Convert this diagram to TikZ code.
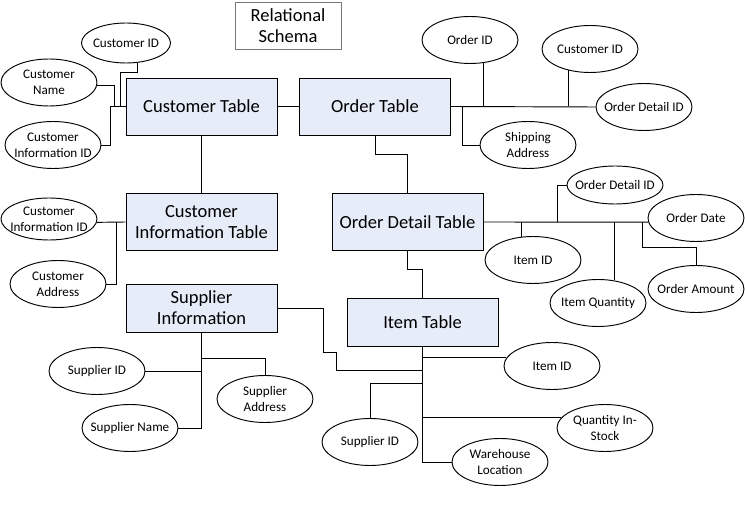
\documentclass[tikz,border=0pt]{standalone}
\usepackage{fontspec}
\setmainfont{Carlito}
\usepackage{xcolor}
\usepackage{tikz}
\usetikzlibrary{shapes.geometric}
\usetikzlibrary{arrows,backgrounds}

\definecolor{tablefill}{RGB}{230,236,248}
\definecolor{titleline}{RGB}{120,120,120}

\begin{document}
\begin{tikzpicture}[x=0.03cm, y=-0.03cm, line width=0.8pt,
    tablebox/.style={draw, fill=tablefill, minimum width=4.53cm, minimum height=1.71cm,
      inner sep=0pt, align=center, font=\fontsize{15.8}{17.9}\selectfont},
    attrib/.style={draw, ellipse, minimum width=2.88cm, minimum height=1.41cm,
      inner xsep=-0.3cm, inner ysep=0pt, align=center, font=\fontsize{11.2}{13.6}\selectfont},
    titlebox/.style={draw=titleline, line width=0.6pt, minimum width=3.18cm, minimum height=1.41cm,
      inner sep=0pt, align=center, font=\fontsize{15.8}{17.9}\selectfont}
  ]
  \useasboundingbox (0,0) rectangle (745,511);

  \node[titlebox] (title) at (288,25.5) {Relational\\Schema};

  % tables
  \node[tablebox] (cust)     at (201.5,106.5) {Customer Table};
  \node[tablebox] (order)    at (375,106.5)   {Order Table};
  \node[tablebox] (custinfo) at (201.5,222)   {Customer\\Information Table};
  \node[tablebox] (odetail)  at (407.5,222)   {Order Detail Table};
  \node[tablebox, minimum height=1.44cm] (supp) at (201.5,308) {Supplier\\Information};
  \node[tablebox, minimum height=1.44cm] (item) at (422.5,322) {Item Table};

  % attributes
  \node[attrib, minimum width=2.67cm, minimum height=1.2cm] (c-id) at (126,43) {Customer ID};
  \node[attrib] (c-name)   at (49,82.5)  {Customer\\Name};
  \node[attrib] (c-infoid) at (53,145)   {Customer\\Information ID};
  \node[attrib] (o-id)       at (470,40)  {Order ID};
  \node[attrib] (o-custid)   at (590,49)  {Customer ID};
  \node[attrib] (o-detailid) at (644,107) {Order Detail ID};
  \node[attrib] (o-ship)     at (528,145) {Shipping\\Address};
  \node[attrib, minimum height=1.26cm] (ci-infoid) at (49,219) {Customer\\Information ID};
  \node[attrib] (ci-addr)   at (58,284)  {Customer\\Address};
  \node[attrib, minimum height=1.14cm] (od-detailid) at (615,185) {Order Detail ID};
  \node[attrib] (od-date)   at (696,218) {Order Date};
  \node[attrib] (od-itemid) at (533,260) {Item ID};
  \node[attrib] (od-qty)    at (598,303) {Item Quantity};
  \node[attrib] (od-amount) at (696,289) {Order Amount};
  \node[attrib] (s-id)   at (97,371)  {Supplier ID};
  \node[attrib] (s-name) at (130,428) {Supplier Name};
  \node[attrib] (s-addr) at (265,399) {Supplier\\Address};
  \node[attrib] (i-id)      at (552,366) {Item ID};
  \node[attrib] (i-suppid)  at (370,442) {Supplier ID};
  \node[attrib] (i-stock)   at (605,428) {Quantity In-\\Stock};
  \node[attrib] (i-ware)    at (500,462) {Warehouse\\Location};

  % customer table
  \draw (cust) -- (order);
  \draw (cust) -- (custinfo);
  \draw (c-infoid.east) -| (110,106.5) -- (cust.west);
  \draw (c-name.-4) -| (114,106.5);
  \draw (c-id.-60) |- (120,72) -- (120,106.5);

  % order table
  \draw (order.east) -- (o-detailid.west);
  \draw (o-id.-59) -- (o-id.-59 |- order.east);
  \draw (o-custid.-135) -- (o-custid.-135 |- order.east);
  \draw (o-ship.west) -| (462,106.5);
  \draw (order.south) |- (407.5,154) -- (odetail.north);

  % customer information table
  \draw (custinfo.west) -- (ci-infoid.-4);
  \draw (ci-addr.east) -| (116,222);

  % order detail table
  \draw (odetail.east) -- (od-date.185);
  \draw (od-detailid.west) -| (557,222);
  \draw (od-itemid.116) -- (od-itemid.116 |- odetail.east);
  \draw (od-qty.54) -- (od-qty.54 |- odetail.east);
  \draw (od-amount.north) |- (642,247) -- (642,222);
  \draw (odetail.south) |- (422.5,269) -- (item.north);

  % supplier information
  \draw (supp.south) |- (s-name.east);
  \draw (s-id.east) -- (s-id.east -| supp.south);
  \draw (s-addr.north) |- (201.5,358);
  \draw (supp.east) -| (323,352) -| (336.5,370) -- (422.5,370);

  % item table
  \draw (item.south) |- (i-ware.west);
  \draw (i-id.170) -- (i-id.170 -| item.south);
  \draw (i-stock.167) -- (i-stock.167 -| item.south);
  \draw (i-suppid.north) |- (422.5,383);
\end{tikzpicture}
\end{document}
